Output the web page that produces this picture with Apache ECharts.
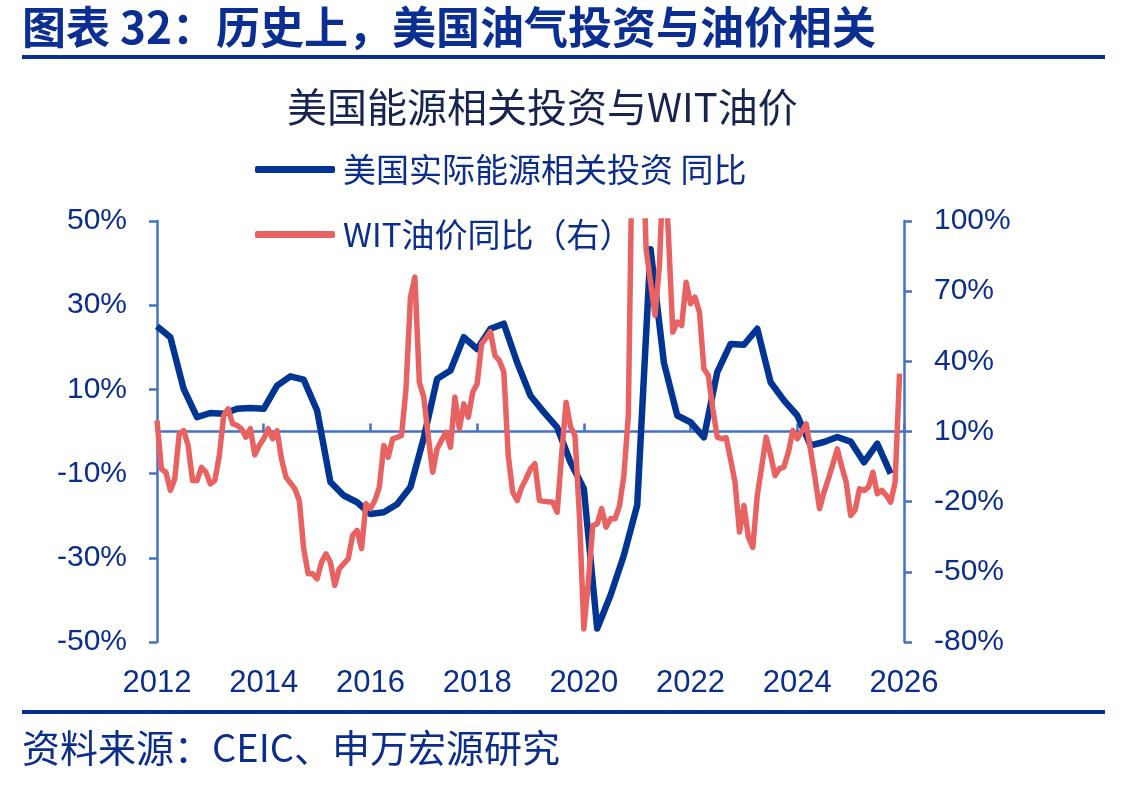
<!DOCTYPE html>
<html>
<head>
<meta charset="utf-8">
<script src="https://cdn.jsdelivr.net/npm/echarts@6/dist/echarts.min.js"></script>
<style>
  html, body { margin: 0; padding: 0; background: #fff; }
  #chart { width: 1137px; height: 787px; }
</style>
</head>
<body>
<div id="chart"></div>
<script>
// quarterly real energy-related investment yoy (%), 2012Q1 .. 2025Q4
const investQuarters = [];
for (let y = 2012; y <= 2025; y++) {
  ['01', '04', '07', '10'].forEach((m) => investQuarters.push(y + '-' + m));
}
const investYoy = [
  25, 22.4, 10.1, 3.4,
  4.4, 4.2, 5.4, 5.6,
  5.4, 10.9, 13.1, 12.3,
  5.0, -12.0, -15.2, -16.8,
  -19.6, -19.2, -17.3, -13.2,
  -1.5, 12.5, 14.5, 22.4,
  19.6, 24.4, 25.6, 16.4,
  8.5, 4.6, 1.0, -7.3,
  -13.6, -46.8, -38.9, -29.4,
  -17.5, 43.3, 16.4, 3.8,
  2.2, -1.4, 14.1, 20.8,
  20.6, 24.4, 11.7, 7.4,
  3.8, -3.3, -2.5, -1.3,
  -2.4, -7.3, -2.9, -10.0,
];

// monthly WTI yoy (%), right axis, starting 2012-01
const wtiYoy = [
  14.7, -6.0, -7.4, -15.2, -10.2, 9.0, 10.4, 4.0, -11, -11, -5.3, -7.4,
  -12.4, -11, -0.5, 16.8, 19.7, 13.3, 12.6, 11.2, 7.6, 11.2, 0, 4,
  6.9, 11.2, 6.9, 10.4, -1.7, -9.5, -12, -14.5, -19.5, -40.2, -50.8, -50.8,
  -53, -45.9, -42.3, -45.9, -55.8, -48.7, -46.5, -44.4, -34.4, -32.3, -40.1, -20.9,
  -23.0, -19.5, -13.8, 4.0, -1.0, 6.9, 7.5, 8.3, 28.3, 67.4, 76, 31.1,
  24.7, 8, -7.4, 2.6, 6.2, 9.7, 3.3, 24.7, 11.2, 21.8, 16.1, 26.8,
  30.4, 47.5, 50, 52.7, 42.5, 40.4, 35.4, -0.3, -16, -19.5, -14, -10.2,
  -6, -3.8, -19.5, -19.8, -20, -20.2, -24.5, 0, 22.5, 12, 8.3, -25.9,
  -74.4, -54.4, -30.2, -29.5, -23, -30.9, -27.3, -27.3, -22, -8.8, 16.8, 150,
  200, 150, 88.1, 73.8, 59.6, 81, 130, 95.2, 52.5, 56.8, 55.3, 73.8,
  64.6, 67.4, 61, 36.8, 33.9, 19.7, 7.6, 6.9, 7.3, -2, -11.7, -33,
  -21.6, -35.2, -39.5, -17.4, -5, 7.6, 0, -8.8, -5.9, -5.2, 1.2, 10.4,
  6.9, 10, 13.3, 2, -10, -23, -16, -10.2, -4, 2.6, -5, -11.7,
  -25.9, -23.6, -14.5, -15.2, -13.8, -7.4, -16.6, -15.2, -17.3, -20.2, -11.7, 34.7,
];
const wtiMonths = wtiYoy.map((_, i) => {
  const y = 2012 + Math.floor(i / 12);
  const m = (i % 12) + 1;
  return y + '-' + String(m).padStart(2, '0');
});

const leftTicks = { min: -50, max: 50, interval: 20 };
const rightTicks = { min: -80, max: 100, interval: 30 };
const yearTicks = { min: 2012, max: 2026, interval: 2 };

const NAVY = '#0b2d8c';
const AXIS = '#4472c4';
const BLUE_LINE = '#003594';
const RED_LINE = '#e86262';
const FONT = '"Liberation Sans", Arial, "Noto Sans CJK SC", sans-serif';
const CJK = '"Noto Sans CJK SC", "Liberation Sans", sans-serif';

const toYear = (s) => {
  const [y, m] = s.split('-').map(Number);
  return y + (m - 1) / 12;
};

const chart = echarts.init(document.getElementById('chart'));

chart.setOption({
  animation: false,
  backgroundColor: '#fff',
  title: {
    text: '美国能源相关投资与WIT油价',
    left: 282,
    top: 82,
    textStyle: { color: '#16244f', fontSize: 40, fontWeight: 'normal', fontFamily: CJK },
  },
  legend: {
    orient: 'vertical',
    left: 250,
    top: 146,
    icon: 'roundRect',
    itemWidth: 80,
    itemHeight: 7,
    itemGap: 28,
    textStyle: { color: NAVY, fontSize: 33, fontFamily: CJK, lineHeight: 37, padding: [0, 0, 0, 3] },
    data: ['美国实际能源相关投资 同比', 'WIT油价同比（右）'],
  },
  graphic: [
    {
      type: 'text',
      left: 22,
      top: 5,
      style: {
        text: '图表 32：历史上，美国油气投资与油价相关',
        fill: '#0a2e91',
        font: 'bold 44px "Noto Sans CJK SC", sans-serif',
      },
    },
    { type: 'rect', shape: { x: 22, y: 55, width: 1083, height: 4 }, style: { fill: '#0a2e91' } },
    { type: 'rect', shape: { x: 22, y: 710, width: 1083, height: 4 }, style: { fill: '#0a2e91' } },
    {
      type: 'text',
      left: 22,
      top: 729,
      style: {
        text: '资料来源：CEIC、申万宏源研究',
        fill: NAVY,
        font: '38px "Noto Sans CJK SC", sans-serif',
      },
    },
  ],
  grid: { left: 157, right: 233, top: 221, bottom: 145 },
  xAxis: [
    {
      type: 'value',
      ...yearTicks,
      axisLine: { show: false },
      axisTick: { show: false },
      splitLine: { show: false },
      axisLabel: { color: NAVY, fontSize: 31, fontFamily: FONT, margin: 26, formatter: (v) => String(v) },
    },
    {
      type: 'value',
      ...yearTicks,
      axisLine: { onZero: true, onZeroAxisIndex: 0, lineStyle: { color: AXIS, width: 2.5 } },
      axisTick: { show: true, length: 8, lineStyle: { color: AXIS, width: 2.5 } },
      splitLine: { show: false },
      axisLabel: { show: false },
    },
  ],
  yAxis: [
    {
      type: 'value',
      ...leftTicks,
      position: 'left',
      axisLine: { show: true, onZero: false, lineStyle: { color: AXIS, width: 2.5 } },
      axisTick: { show: true, length: 8, lineStyle: { color: AXIS, width: 2.5 } },
      splitLine: { show: false },
      axisLabel: { color: NAVY, fontSize: 30, fontFamily: FONT, margin: 30, formatter: '{value}%' },
    },
    {
      type: 'value',
      ...rightTicks,
      position: 'right',
      axisLine: { show: true, onZero: false, lineStyle: { color: AXIS, width: 2.5 } },
      axisTick: { show: true, length: 8, lineStyle: { color: AXIS, width: 2.5 } },
      splitLine: { show: false },
      axisLabel: { color: NAVY, fontSize: 30, fontFamily: FONT, margin: 30, formatter: '{value}%' },
    },
  ],
  series: [
    {
      name: '美国实际能源相关投资 同比',
      type: 'line',
      xAxisIndex: 0,
      yAxisIndex: 0,
      data: investQuarters.map((q, i) => [toYear(q), investYoy[i]]),
      showSymbol: false,
      symbol: 'none',
      color: BLUE_LINE,
      lineStyle: { color: BLUE_LINE, width: 6.5, join: 'round' },
      clip: true,
    },
    {
      name: 'WIT油价同比（右）',
      type: 'line',
      xAxisIndex: 0,
      yAxisIndex: 1,
      data: wtiMonths.map((m, i) => [toYear(m), wtiYoy[i]]),
      showSymbol: false,
      symbol: 'none',
      color: RED_LINE,
      lineStyle: { color: RED_LINE, width: 5.5, join: 'round' },
      clip: true,
    },
  ],
});
</script>
</body>
</html>
